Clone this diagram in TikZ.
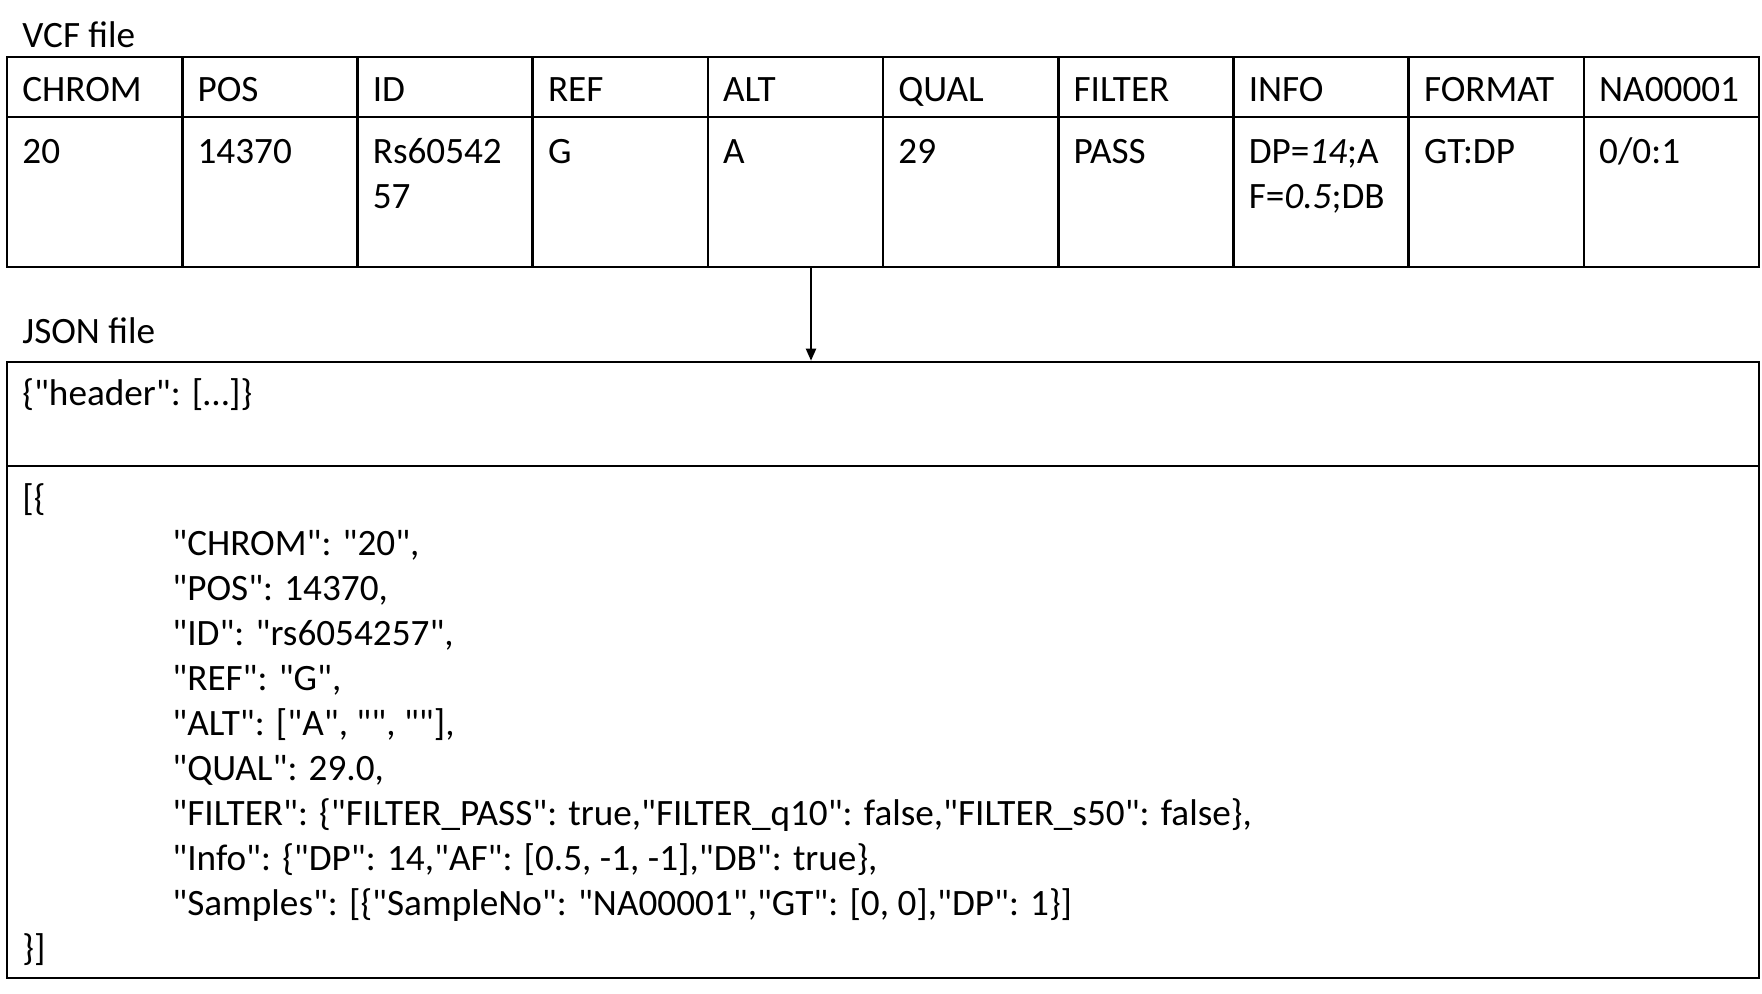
\documentclass[tikz,border=0pt]{standalone}
\usepackage{fontspec}
\setmainfont{Carlito}[Ligatures=TeXOff]
\usetikzlibrary{arrows.meta,fit}
\begin{document}
\begin{tikzpicture}[x=0.5pt,y=-0.5pt,
  frame/.style={draw, line width=1.3pt, inner sep=0pt},
  rule/.style={line width=1.3pt},
  txt/.style={anchor=base west, inner sep=0pt, font=\fontsize{18.6pt}{22.5pt}\selectfont},
  flow/.style={-{Triangle[length=6pt,width=5pt]}, line width=1pt}]
\useasboundingbox (0,0) rectangle (1762,993);

% ---------- VCF table ----------
\node[txt] (vcflabel) at (22,47) {VCF file};
\coordinate (vcfNW) at (7,57);
\coordinate (vcfSE) at (1759,267);
\node[frame, fit=(vcfNW)(vcfSE)] (vcf) {};
\draw[rule] (7,117) -- (1759,117);
\foreach \i in {1,...,9}
  \draw[rule] (7+\i*175.2,57) -- (7+\i*175.2,267);
\foreach \h/\v [count=\i from 0] in {{CHROM}/{20}, {POS}/{14370}, {ID}/{Rs60542},
    {REF}/{G}, {ALT}/{A}, {QUAL}/{29}, {FILTER}/{PASS},
    {INFO}/{DP=\textit{14};A}, {FORMAT}/{GT:DP}, {NA00001}/{0/0:1}} {
  \node[txt] (h\i) at (22+\i*175.2,101) {\h};
  \node[txt] (v\i) at (22+\i*175.2,163) {\v};
}
\node[txt] (v2b) at (22+2*175.2,208) {57};
\node[txt] (v7b) at (22+7*175.2,208) {F=\textit{0.5};DB};

% ---------- JSON box ----------
\node[txt] (jsonlabel) at (22,343) {JSON file};
\coordinate (jsNW) at (7,362);
\coordinate (jsSE) at (1759,978);
\node[frame, fit=(jsNW)(jsSE)] (json) {};
\draw[rule] (7,466) -- (1759,466);

\node[txt] (jhead) at (22,405) {\{"header": […]\}};
\node[txt] (jopen) at (22,510) {[\{};
\node[txt] (j1) at (172,555) {"CHROM": "20",};
\node[txt] (j2) at (172,600) {"POS": 14370,};
\node[txt] (j3) at (172,645) {"ID": "rs6054257",};
\node[txt] (j4) at (172,690) {"REF": "G",};
\node[txt] (j5) at (172,735) {"ALT": ["A", "", ""],};
\node[txt] (j6) at (172,780) {"QUAL": 29.0,};
\node[txt] (j7) at (172,825) {"FILTER": \{"FILTER\_PASS": true,"FILTER\_q10": false,"FILTER\_s50": false\},};
\node[txt] (j8) at (172,870) {"Info": \{"DP": 14,"AF": [0.5, -1, -1],"DB": true\},};
\node[txt] (j9) at (172,915) {"Samples": [\{"SampleNo": "NA00001","GT": [0, 0],"DP": 1\}]};
\node[txt] (jclose) at (22,960) {\}]};

% ---------- conversion arrow ----------
\coordinate (ax) at (811,0);
\draw[flow] (vcf.south -| ax) -- (json.north -| ax);
\end{tikzpicture}
\end{document}
